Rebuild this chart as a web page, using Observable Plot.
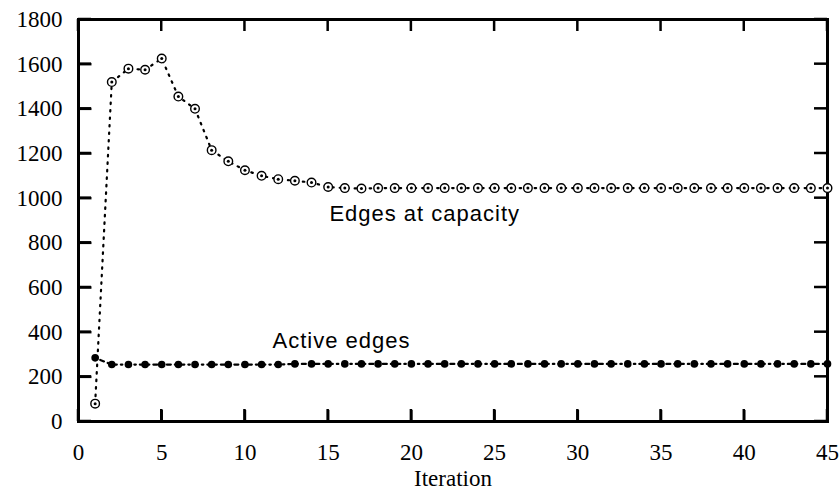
<!DOCTYPE html>
<html>
<head>
<meta charset="utf-8">
<script src="https://cdn.jsdelivr.net/npm/d3@7"></script>
<script src="https://cdn.jsdelivr.net/npm/@observablehq/plot@0.6"></script>
<style>
  html, body { margin: 0; padding: 0; background: #fff; }
  #chart svg { display: block; }
</style>
</head>
<body>
<div id="chart"></div>
<script>
const iterations = d3.range(1, 46);
const capacityValues = [80, 1520, 1580, 1575, 1625, 1455, 1400, 1215, 1165, 1125,
  1100, 1085, 1078, 1070, 1050, 1045, 1043, 1045, 1045, 1045,
  1045, 1045, 1045, 1045, 1045, 1045, 1045, 1045, 1045, 1045,
  1045, 1045, 1045, 1045, 1045, 1045, 1045, 1045, 1045, 1045,
  1045, 1045, 1045, 1045, 1045];
const activeValues = [285, 255, 255, 255, 255, 255, 255, 255, 255, 255,
  255, 255, 258, 258, 258, 258, 258, 258, 258, 258,
  258, 258, 258, 258, 258, 258, 258, 258, 258, 258,
  258, 258, 258, 258, 258, 258, 258, 258, 258, 258,
  258, 258, 258, 258, 258];
const xTicks = [0, 5, 10, 15, 20, 25, 30, 35, 40, 45];
const yTicks = [0, 200, 400, 600, 800, 1000, 1200, 1400, 1600, 1800];
const labels = [
  {text: "Edges at capacity", x: 20.8, y: 930},
  {text: "Active edges", x: 15.8, y: 362}
];

const capacity = iterations.map((x, i) => ({x, y: capacityValues[i]}));
const active = iterations.map((x, i) => ({x, y: activeValues[i]}));

const serif = "'Liberation Serif', 'DejaVu Serif', serif";
const sans = "'Liberation Sans', 'DejaVu Sans', sans-serif";

const chart = Plot.plot({
  width: 840,
  height: 494,
  marginLeft: 78,
  marginRight: 13,
  marginTop: 19,
  marginBottom: 73,
  style: {background: "#fff", color: "#000"},
  x: {domain: [0, 45]},
  y: {domain: [0, 1800]},
  marks: [
    Plot.axisX({ticks: xTicks, tickSize: 0, tickPadding: 22, fontSize: 23, fontFamily: serif, label: null, tickFormat: d => String(d)}),
    Plot.axisY({ticks: yTicks, tickSize: 0, tickPadding: 16, fontSize: 23, fontFamily: serif, label: null, tickFormat: d => String(d)}),
    Plot.text(["Iteration"], {frameAnchor: "bottom", dy: 64, text: d => d, fontSize: 23, fontFamily: serif}),
    Plot.link(xTicks, {x1: d => d, x2: d => d, y1: () => 0, y2: () => 52, stroke: "black", strokeWidth: 2.5}),
    Plot.link(yTicks, {y1: d => d, y2: d => d, x1: () => 0, x2: () => 0.78, stroke: "black", strokeWidth: 2.5}),
    Plot.frame({stroke: "#000", strokeWidth: 3}),
    Plot.line(capacity, {x: "x", y: "y", stroke: "#000", strokeWidth: 2.2, strokeDasharray: "1.5,6"}),
    Plot.line(active, {x: "x", y: "y", stroke: "#000", strokeWidth: 2.2, strokeDasharray: "1.5,4,4,4"}),
    Plot.dot(capacity, {x: "x", y: "y", r: 4.3, stroke: "#000", strokeWidth: 1.4, fill: "#fff"}),
    Plot.dot(capacity, {x: "x", y: "y", r: 1.5, fill: "#000", stroke: null}),
    Plot.dot(active, {x: "x", y: "y", r: 3.8, fill: "#000", stroke: null}),
    Plot.text(labels, {x: "x", y: "y", text: "text", fontSize: 22, fontFamily: sans, fill: "#000"})
  ]
});
chart.querySelectorAll("text").forEach(t => {
  if (t.textContent === "Edges at capacity" || t.textContent === "Active edges") t.style.letterSpacing = "1px";
});

// inward ticks on all four sides, positioned via the plot's own scales
const sx = chart.scale("x"), sy = chart.scale("y");
const svg = d3.select(chart);
const g = svg.append("g").attr("stroke", "black").attr("stroke-width", 2.5);
const x0 = sx.apply(0), x45 = sx.apply(45), y0 = sy.apply(0), y1800 = sy.apply(1800);
xTicks.forEach(t => {
  const px = sx.apply(t);
  g.append("line").attr("x1", px).attr("x2", px).attr("y1", y0).attr("y2", y0 - 12);
  g.append("line").attr("x1", px).attr("x2", px).attr("y1", y1800).attr("y2", y1800 + 12);
});
yTicks.forEach(t => {
  const py = sy.apply(t);
  g.append("line").attr("x1", x0).attr("x2", x0 + 13).attr("y1", py).attr("y2", py);
  g.append("line").attr("x1", x45).attr("x2", x45 - 13).attr("y1", py).attr("y2", py);
});
document.getElementById("chart").appendChild(chart);
</script>
</body>
</html>
